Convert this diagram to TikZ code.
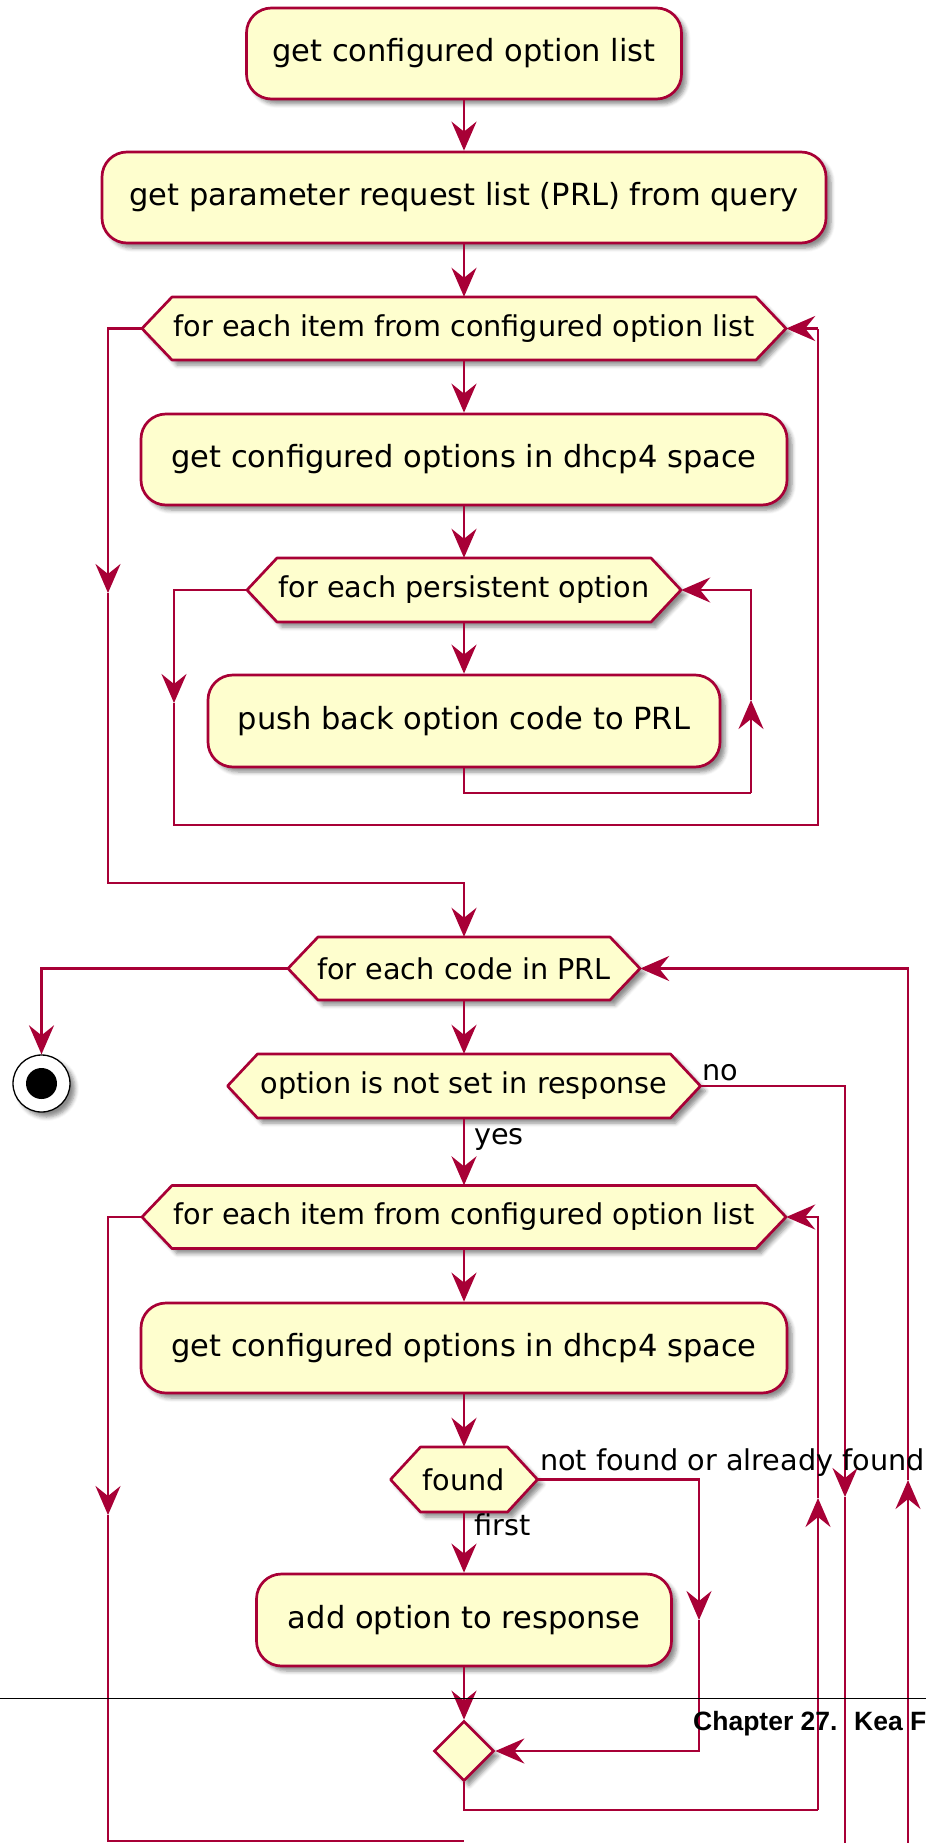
\documentclass[tikz,border=0pt]{standalone}
\usepackage{fontspec}
\setmainfont{DejaVu Sans}
\newfontfamily\chapfont{Liberation Sans}
\usetikzlibrary{arrows.meta,shapes.geometric,shadows.blur}
\definecolor{pucrim}{HTML}{A80036}
\definecolor{puyel}{HTML}{FEFECE}
\tikzset{
  shad/.style={blur shadow={shadow xshift=5pt, shadow yshift=-5pt, shadow blur radius=4pt, shadow blur steps=5, shadow opacity=45}},
  actbox/.style={draw=pucrim, fill=puyel, line width=2.7pt, rounded corners=25pt, inner sep=0pt, minimum height=91pt, font=\fontsize{30.5}{36}\selectfont, shad},
  hexfill/.style={draw=pucrim, fill=puyel, line width=2.7pt, line join=round, shad},
  hextext/.style={inner sep=0pt, font=\fontsize{28.7}{34}\selectfont},
  flow/.style={draw=pucrim, line width=2.7pt},
  arr/.style={flow, -{Stealth[length=29pt,width=25pt,inset=10pt]}},
  lbl/.style={inner sep=0pt, font=\fontsize{28.7}{34}\selectfont, anchor=base west},
}
\newcommand\hexa[6]{%
  \path[hexfill] ({#2-#4/2},{#3}) -- ({#2-#4/2+30},{#3-#5/2}) -- ({#2+#4/2-30},{#3-#5/2}) -- ({#2+#4/2},{#3}) -- ({#2+#4/2-30},{#3+#5/2}) -- ({#2-#4/2+30},{#3+#5/2}) -- cycle;
  \node[hextext, minimum width=#4pt, minimum height=#5pt] (#1) at (#2,#3) {#6};
}
\begin{document}
\begin{tikzpicture}[x=1pt,y=-1pt]
\useasboundingbox (0,0) rectangle (926,1843);
% nodes
\node[actbox, minimum width=435pt] (b1) at (464,53.5) {get configured option list};
\node[actbox, minimum width=724pt] (b2) at (464,197.5) {get parameter request list (PRL) from query};
\hexa{h1}{464}{328.5}{644}{63}{for each item from configured option list}
\node[actbox, minimum width=646pt] (b3) at (464,459.5) {get configured options in dhcp4 space};
\hexa{h2}{464}{590}{434}{64}{for each persistent option}
\node[actbox, minimum width=512pt, minimum height=92pt] (b4) at (464,721) {push back option code to PRL};
\hexa{h3}{464}{968.5}{352}{63}{for each code in PRL}
\node[circle, draw=black, line width=1.3pt, fill=white, minimum size=57pt, inner sep=0pt, shad] (stop) at (41.5,1083.5) {};
\fill[black] (stop.center) circle (15.5pt);
\hexa{h4}{464}{1086}{473}{64}{option is not set in response}
\hexa{h5}{464}{1217}{644}{63}{for each item from configured option list}
\node[actbox, minimum width=646pt, minimum height=90pt] (b6) at (464,1348) {get configured options in dhcp4 space};
\hexa{h6}{464}{1479.5}{147}{65}{found}
\node[actbox, minimum width=415pt, minimum height=92pt] (b7) at (464,1620) {add option to response};
\node[diamond, draw=pucrim, fill=puyel, line width=2.7pt, minimum width=60pt, minimum height=60pt, inner sep=0pt, shad] (m) at (464,1751) {};
% coordinates
\coordinate (p1) at (108,593);
\coordinate (q1) at (108,883);
\coordinate (q2) at (464,883);
\coordinate (p2) at (174,703);
\coordinate (q3) at (174,825);
\coordinate (q4) at (818,825);
\coordinate (q5) at (818,328.5);
\coordinate (q6) at (464,793);
\coordinate (q7) at (751,793);
\coordinate (p3) at (751,700);
\coordinate (q8) at (751,590);
\coordinate (pn) at (845,1497);
\coordinate (qn) at (845,1843);
\coordinate (r0) at (908,1843);
\coordinate (pr) at (908,1480);
\coordinate (pl5) at (108,1515);
\coordinate (ql5) at (108,1841);
\coordinate (ql6) at (464,1841);
\coordinate (pf) at (699,1620);
\coordinate (qm1) at (464,1810);
\coordinate (qm2) at (818,1810);
\coordinate (pm) at (818,1498);
% main chain
\draw[arr] (b1.south) -- (b2.north);
\draw[arr] (b2.south) -- (h1.north);
\draw[arr] (h1.south) -- (b3.north);
\draw[arr] (b3.south) -- (h2.north);
\draw[arr] (h2.south) -- (b4.north);
\draw[arr] (h3.south) -- (h4.north);
\draw[arr] (h4.south) -- (h5.north);
\draw[arr] (h5.south) -- (b6.north);
\draw[arr] (b6.south) -- (h6.north);
\draw[arr] (h6.south) -- (b7.north);
\draw[arr] (b7.south) -- (m.north);
% first loop
\draw[arr] (h1.west) -| (p1);
\draw[arr] (p1) -- (q1) -- (q2) -- (h3.north);
\draw[arr] (h2.west) -| (p2);
\draw[flow] (p2) -- (q3) -- (q4) -- (q5);
\draw[arr] (q5) -- (h1.east);
\draw[flow] (b4.south) -- (q6) -- (q7);
\draw[arr] (q7) -- (p3);
\draw[arr] (p3) -- (q8) -- (h2.east);
% second loop
\draw[arr] (h3.west) -| (stop.north);
\draw[arr] (h4.east) -| (pn);
\draw[flow] (pn) -- (qn);
\draw[arr] (r0) -- (pr);
\draw[arr] (pr) |- (h3.east);
\draw[arr] (h5.west) -| (pl5);
\draw[flow] (pl5) -- (ql5) -- (ql6);
\draw[arr] (h6.east) -| (pf);
\draw[arr] (pf) |- (m.east);
\draw[flow] (m.south) -- (qm1) -- (qm2);
\draw[arr] (qm2) -- (pm);
\draw[arr] (pm) |- (h5.east);
% labels
\node[lbl] (lno) at (702,1080) {no};
\node[lbl] (lyes) at (474,1144) {yes};
\node[lbl] (lnf) at (540,1470) {not found or already found};
\node[lbl] (lfirst) at (474,1535) {first};
% page artefacts
\draw[black, line width=1pt] (0,1698) -- (926,1698);
\node[inner sep=0pt, anchor=base west, font=\chapfont\bfseries\fontsize{26.5}{30}\selectfont] (ch1) at (693,1730) {Chapter 27.};
\node[inner sep=0pt, anchor=base west, font=\chapfont\bfseries\fontsize{26.5}{30}\selectfont] (ch2) at (854,1730) {Kea F};
\end{tikzpicture}
\end{document}
